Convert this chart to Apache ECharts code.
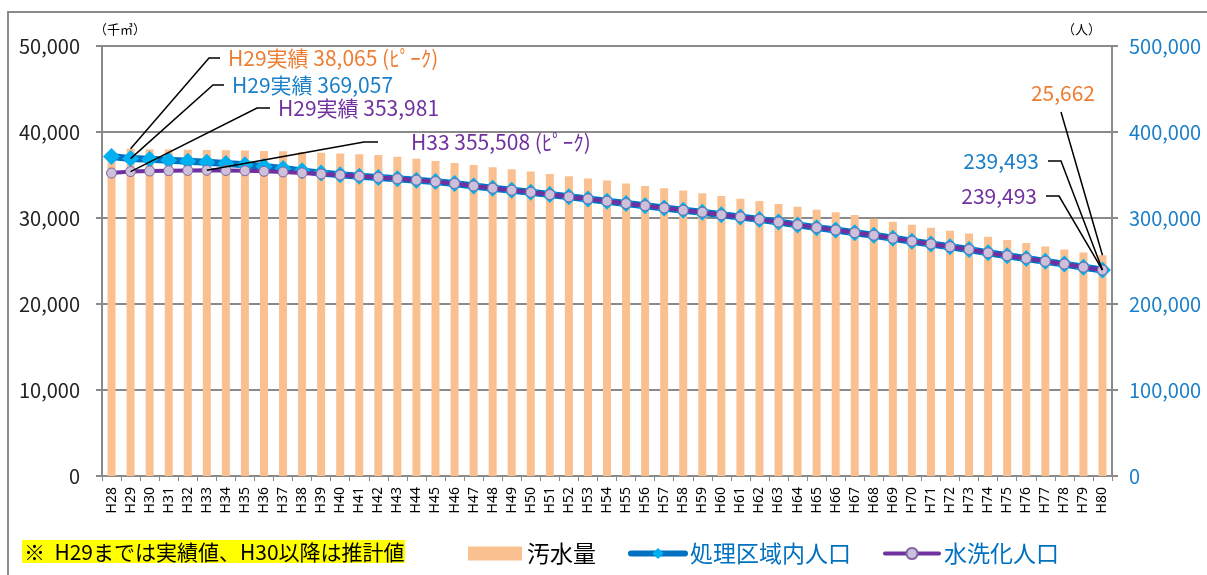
<!DOCTYPE html>
<html>
<head>
<meta charset="utf-8">
<script src="https://cdn.jsdelivr.net/npm/echarts@6/dist/echarts.min.js"></script>
<style>
  html, body { margin: 0; padding: 0; background: #ffffff; }
  #chart { width: 1207px; height: 575px; }
</style>
</head>
<body>
<div id="chart"></div>
<script>
const years = ['H28', 'H29', 'H30', 'H31', 'H32', 'H33', 'H34', 'H35', 'H36', 'H37', 'H38', 'H39', 'H40',
  'H41', 'H42', 'H43', 'H44', 'H45', 'H46', 'H47', 'H48', 'H49', 'H50', 'H51', 'H52', 'H53', 'H54', 'H55',
  'H56', 'H57', 'H58', 'H59', 'H60', 'H61', 'H62', 'H63', 'H64', 'H65', 'H66', 'H67', 'H68', 'H69', 'H70',
  'H71', 'H72', 'H73', 'H74', 'H75', 'H76', 'H77', 'H78', 'H79', 'H80']

// 汚水量 (千㎥)
const sewage = [37600, 38065, 37990, 37960, 37930, 37900, 37870, 37840, 37800, 37750, 37680, 37580, 37490,
  37420, 37320, 37120, 36900, 36630, 36400, 36160, 35900, 35660, 35400, 35120, 34850, 34580, 34350, 34000,
  33720, 33450, 33200, 32870, 32560, 32250, 31980, 31630, 31320, 30970, 30660, 30350, 29920, 29570, 29220,
  28880, 28530, 28200, 27830, 27440, 27090, 26700, 26350, 26000, 25662]

// 処理区域内人口 (人)
const areaPop = [371500, 369057, 368200, 367100, 366000, 364800, 363500, 361900, 359800, 357500, 354800, 352200, 350300,
  348600, 347200, 345700, 344000, 342300, 340100, 337300, 334600, 332300, 329900, 327300, 324600, 322200, 319500, 316800,
  314300, 311700, 309000, 306700, 303700, 301200, 298400, 295300, 292000, 288800, 286000, 282900, 280000, 276500, 273000,
  269800, 266600, 263400, 259500, 256200, 253000, 249600, 246400, 242800, 239493]

// 水洗化人口 (人)
const flushPop = [352300, 353981, 354600, 355000, 355350, 355508, 355300, 354900, 354300, 353500, 352400, 351200, 350000,
  348600, 347200, 345700, 344000, 342300, 340100, 337300, 334600, 332300, 329900, 327300, 324600, 322200, 319500, 316800,
  314300, 311700, 309000, 306700, 303700, 301200, 298400, 295300, 292000, 288800, 286000, 282900, 280000, 276500, 273000,
  269800, 266600, 263400, 259500, 256200, 253000, 249600, 246400, 242800, 239493]

const FONT = '"Noto Sans CJK JP", "Noto Sans", sans-serif'
const GRAY = '#8a8a8a'

const chart = echarts.init(document.getElementById('chart'))

const option = {
  animation: false,
  textStyle: { fontFamily: FONT },
  grid: { left: 102, right: 95, top: 46, bottom: 99 },
  legend: {
    left: 463,
    top: 537,
    itemWidth: 54,
    itemHeight: 14,
    itemGap: 32,
    textStyle: { fontSize: 23, fontFamily: FONT },
    data: [
      { name: '汚水量', icon: 'rect', textStyle: { color: '#000' } },
      { name: '処理区域内人口', textStyle: { color: '#0070C0' }, lineStyle: { width: 6, cap: 'round' } },
      { name: '水洗化人口', textStyle: { color: '#0070C0' }, lineStyle: { width: 4, cap: 'round' } }
    ]
  },
  xAxis: {
    type: 'category',
    data: years,
    boundaryGap: true,
    axisLine: { lineStyle: { color: GRAY, width: 1.5 } },
    axisTick: { show: true, length: 5, lineStyle: { color: GRAY } },
    axisLabel: {
      interval: 0,
      rotate: 90,
      margin: 11,
      fontSize: 14,
      color: '#000',
      fontFamily: '"Noto Sans", sans-serif'
    }
  },
  yAxis: [
    {
      type: 'value',
      min: 0,
      max: 50000,
      interval: 10000,
      position: 'left',
      axisLine: { show: true, lineStyle: { color: GRAY, width: 2 } },
      axisTick: { show: true, length: 6, lineStyle: { color: GRAY, width: 2 } },
      splitLine: { lineStyle: { color: GRAY, width: 2 } },
      axisLabel: {
        fontSize: 20,
        color: '#222',
        margin: 22,
        formatter: v => v.toLocaleString('en-US')
      }
    },
    {
      type: 'value',
      min: 0,
      max: 500000,
      interval: 100000,
      position: 'right',
      axisLine: { show: true, lineStyle: { color: GRAY, width: 2 } },
      axisTick: { show: true, length: 6, lineStyle: { color: GRAY, width: 2 } },
      splitLine: { show: false },
      axisLabel: {
        fontSize: 20,
        color: '#1a7fc8',
        margin: 17,
        formatter: v => v.toLocaleString('en-US')
      }
    }
  ],
  series: [
    {
      name: '汚水量',
      type: 'bar',
      data: sewage,
      barWidth: 8,
      itemStyle: { color: '#FAC090' }
    },
    {
      name: '処理区域内人口',
      type: 'line',
      yAxisIndex: 1,
      data: areaPop,
      symbol: 'diamond',
      symbolSize: 17,
      itemStyle: { color: '#00B0F0' },
      lineStyle: { color: '#0070C0', width: 7 },
      z: 3
    },
    {
      name: '水洗化人口',
      type: 'line',
      yAxisIndex: 1,
      data: flushPop,
      symbol: 'circle',
      symbolSize: 10,
      itemStyle: { color: '#CCC0DA', borderColor: '#8064A2', borderWidth: 1 },
      lineStyle: { color: '#7030A0', width: 4 },
      z: 4
    }
  ]
}

chart.setOption(option)

// leader lines for the callouts, anchored on the data points
const i29 = years.indexOf('H29')
const i33 = years.indexOf('H33')
const i80 = years.indexOf('H80')
const pSew29 = chart.convertToPixel({ xAxisIndex: 0, yAxisIndex: 0 }, [i29, sewage[i29]])
const pArea29 = chart.convertToPixel({ xAxisIndex: 0, yAxisIndex: 1 }, [i29, areaPop[i29]])
const pFlush29 = chart.convertToPixel({ xAxisIndex: 0, yAxisIndex: 1 }, [i29, flushPop[i29]])
const pFlush33 = chart.convertToPixel({ xAxisIndex: 0, yAxisIndex: 1 }, [i33, flushPop[i33]])
const pSew80 = chart.convertToPixel({ xAxisIndex: 0, yAxisIndex: 0 }, [i80, sewage[i80]])
const pArea80 = chart.convertToPixel({ xAxisIndex: 0, yAxisIndex: 1 }, [i80, areaPop[i80]])
const pFlush80 = chart.convertToPixel({ xAxisIndex: 0, yAxisIndex: 1 }, [i80, flushPop[i80]])

const leader = (pts) => ({
  type: 'polyline',
  z: 100,
  silent: true,
  shape: { points: pts },
  style: { stroke: '#000', lineWidth: 1.5, fill: null }
})

const label = (text, x, y, color, align) => ({
  type: 'text',
  z: 100,
  silent: true,
  x: x,
  y: y,
  style: {
    text: text,
    fill: color,
    font: '21px ' + FONT,
    textAlign: align || 'left',
    textVerticalAlign: 'middle'
  }
})

chart.setOption({
  graphic: [
    // outer frame
    {
      type: 'rect',
      z: -10,
      silent: true,
      shape: { x: 8, y: 12, width: 1400, height: 700 },
      style: { fill: null, stroke: GRAY, lineWidth: 2 }
    },
    // unit labels
    { type: 'text', x: 94, y: 29, style: { text: '（千㎥）', font: '13px ' + FONT, fill: '#000', textVerticalAlign: 'middle' } },
    { type: 'text', x: 1101, y: 29, style: { text: '（人）', font: '13px ' + FONT, fill: '#000', textAlign: 'right', textVerticalAlign: 'middle' } },

    leader([pSew29, [209, 58], [220, 58]]),
    label('H29実績 38,065 (ﾋﾟｰｸ)', 228, 58, '#ed7d31'),
    leader([pArea29, [213, 85], [224, 85]]),
    label('H29実績 369,057', 232, 85, '#1a7fc8'),
    leader([pFlush29, [257, 108], [270, 108]]),
    label('H29実績 353,981', 278, 108, '#7030a0'),
    leader([pFlush33, [364, 142], [378, 142]]),
    label('H33 355,508 (ﾋﾟｰｸ)', 411, 142, '#7030a0'),

    leader([[1061, 112], pSew80]),
    label('25,662', 1095, 93, '#ed7d31', 'right'),
    leader([[1048, 161], [1061, 161], pArea80]),
    label('239,493', 1039, 161, '#1a7fc8', 'right'),
    leader([[1046, 196], [1059, 196], pFlush80]),
    label('239,493', 1037, 196, '#7030a0', 'right'),

    // note box
    {
      type: 'rect',
      silent: true,
      shape: { x: 22, y: 540, width: 383, height: 23 },
      style: { fill: '#FFFF00' }
    },
    {
      type: 'text',
      silent: true,
      x: 24,
      y: 552,
      style: { text: '※  H29までは実績値、H30以降は推計値', font: '21px ' + FONT, fill: '#000', textVerticalAlign: 'middle' }
    }
  ]
})
</script>
</body>
</html>
